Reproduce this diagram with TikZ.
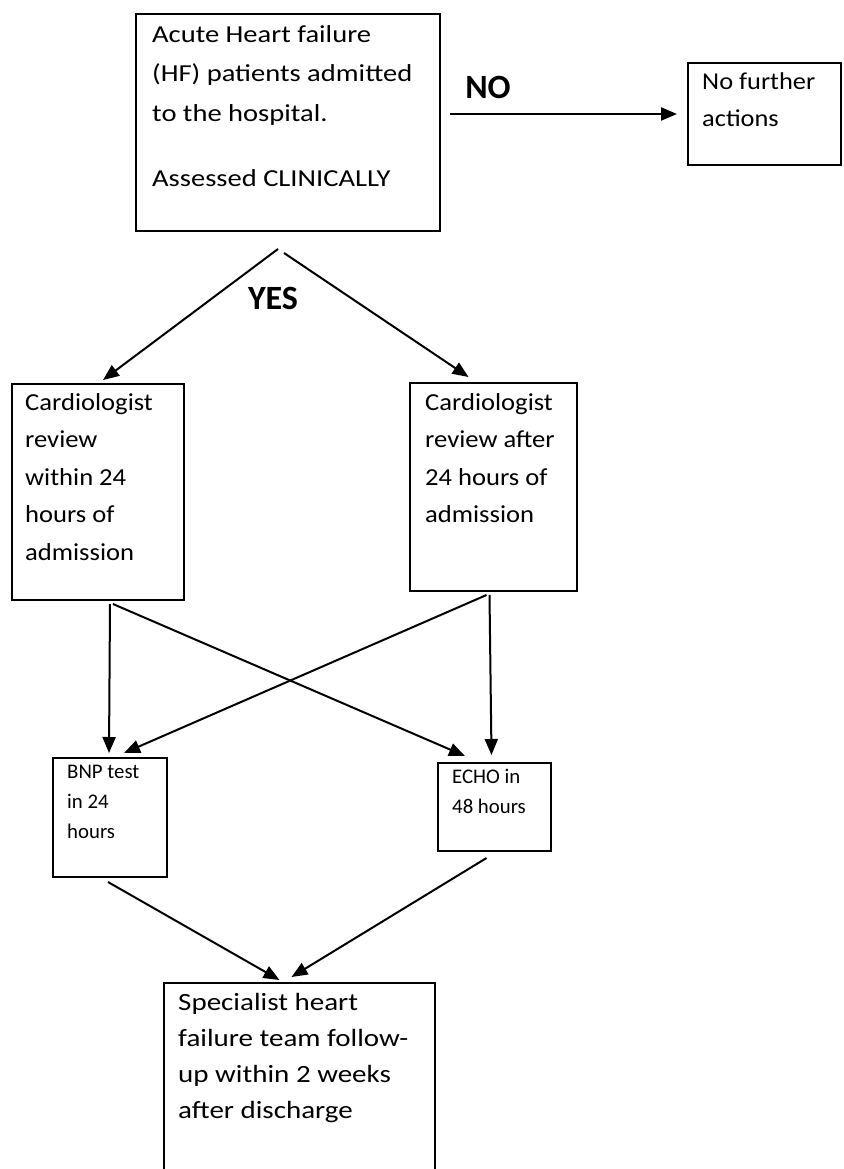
\documentclass[tikz,border=0pt]{standalone}
\usepackage{fontspec}
\setmainfont{Carlito}
\newfontfamily\wideface{Carlito}[FakeStretch=1.17]
\newfontfamily\midface{Carlito}[FakeStretch=1.09]
\usetikzlibrary{arrows.meta}
\usetikzlibrary{calc}
\tikzset{
    box/.style={draw, line width=2pt, rectangle, anchor=north west, inner sep=0pt},
    txt/.style={anchor=north west, inner sep=0pt, align=left},
    bigtxt/.style={txt, font=\wideface\fontsize{24.4}{39.5}\selectfont},
    midtxt/.style={txt, font=\midface\fontsize{24.4}{37.5}\selectfont},
    smalltxt/.style={txt, font=\fontsize{20.8}{30}\selectfont},
    answer/.style={font=\bfseries\fontsize{34}{34}\selectfont},
    flow/.style={line width=2pt, -{Triangle[length=16pt, width=13pt]}}
}

\begin{document}
\begin{tikzpicture}[x=1pt, y=-1pt]
      \fill[white] (0,0) rectangle (843,1169);
      \useasboundingbox (0,0) rectangle (843,1169);

      \node[box, minimum width=304pt, minimum height=217pt] (hf) at (135,13) {};
      \node[bigtxt] (hf-text) at (152,25) {Acute Heart failure\\(HF) patients admitted\\to the hospital.\\[26pt]Assessed CLINICALLY};

      \node[box, minimum width=153pt, minimum height=102pt] (none) at (687,62) {};
      \node[midtxt, font=\midface\fontsize{24.2}{37}\selectfont] (none-text) at (702,72) {No further\\actions};

      \node[answer] (no) at (488,87) {NO};
      \node[answer] (yes) at (273,298) {YES};

      \node[box, minimum width=172pt, minimum height=216pt] (cardnow) at (11,383) {};
      \node[midtxt] (cardnow-text) at (25,393) {Cardiologist\\review\\within 24\\hours of\\admission};

      \node[box, minimum width=167pt, minimum height=208pt] (cardlater) at (409,382) {};
      \node[midtxt] (cardlater-text) at (425,393) {Cardiologist\\review after\\24 hours of\\admission};

      \node[box, minimum width=114pt, minimum height=119pt] (bnp) at (52,757) {};
      \node[smalltxt] (bnp-text) at (67,765) {BNP test\\in 24\\hours};

      \node[box, minimum width=113pt, minimum height=88pt] (echo) at (437,762) {};
      \node[smalltxt] (echo-text) at (452,769) {ECHO in\\48 hours};

      \node[box, minimum width=271pt, minimum height=200pt] (spec) at (163,982) {};
      \node[bigtxt, font=\wideface\fontsize{24.8}{36}\selectfont] (spec-text) at (178,993) {Specialist heart\\failure team follow-\\up within 2 weeks\\after discharge};

      \draw[flow, shorten <=9pt, shorten >=10pt] (none.west -| hf.east) -- (none.west);

      \draw[flow] ($(hf.south)+(-10,17)$) -- ($(cardnow.north)+(5,-3)$);
      \draw[flow] ($(hf.south)+(-4,21)$) -- ($(cardlater.north)+(-25,-5)$);

      \draw[flow] ($(bnp.north |- cardnow.south)+(0,3)$) -- ($(bnp.north)+(-1,-4)$);
      \draw[flow] ($(cardnow.south)+(15,3)$) -- ($(echo.north west)+(28,-6)$);
      \draw[flow] ($(cardlater.south)+(-4,3)$) -- ($(echo.north)+(-3,-7)$);
      \draw[flow] ($(cardlater.south)+(-7,3)$) -- ($(bnp.north)+(14,-4)$);

      \draw[flow] ($(bnp.south)+(-2,4)$) -- ($(spec.north)+(-20,-2)$);
      \draw[flow] ($(echo.south)+(-8,6)$) -- ($(spec.north)+(-8,-5)$);
\end{tikzpicture}
\end{document}
